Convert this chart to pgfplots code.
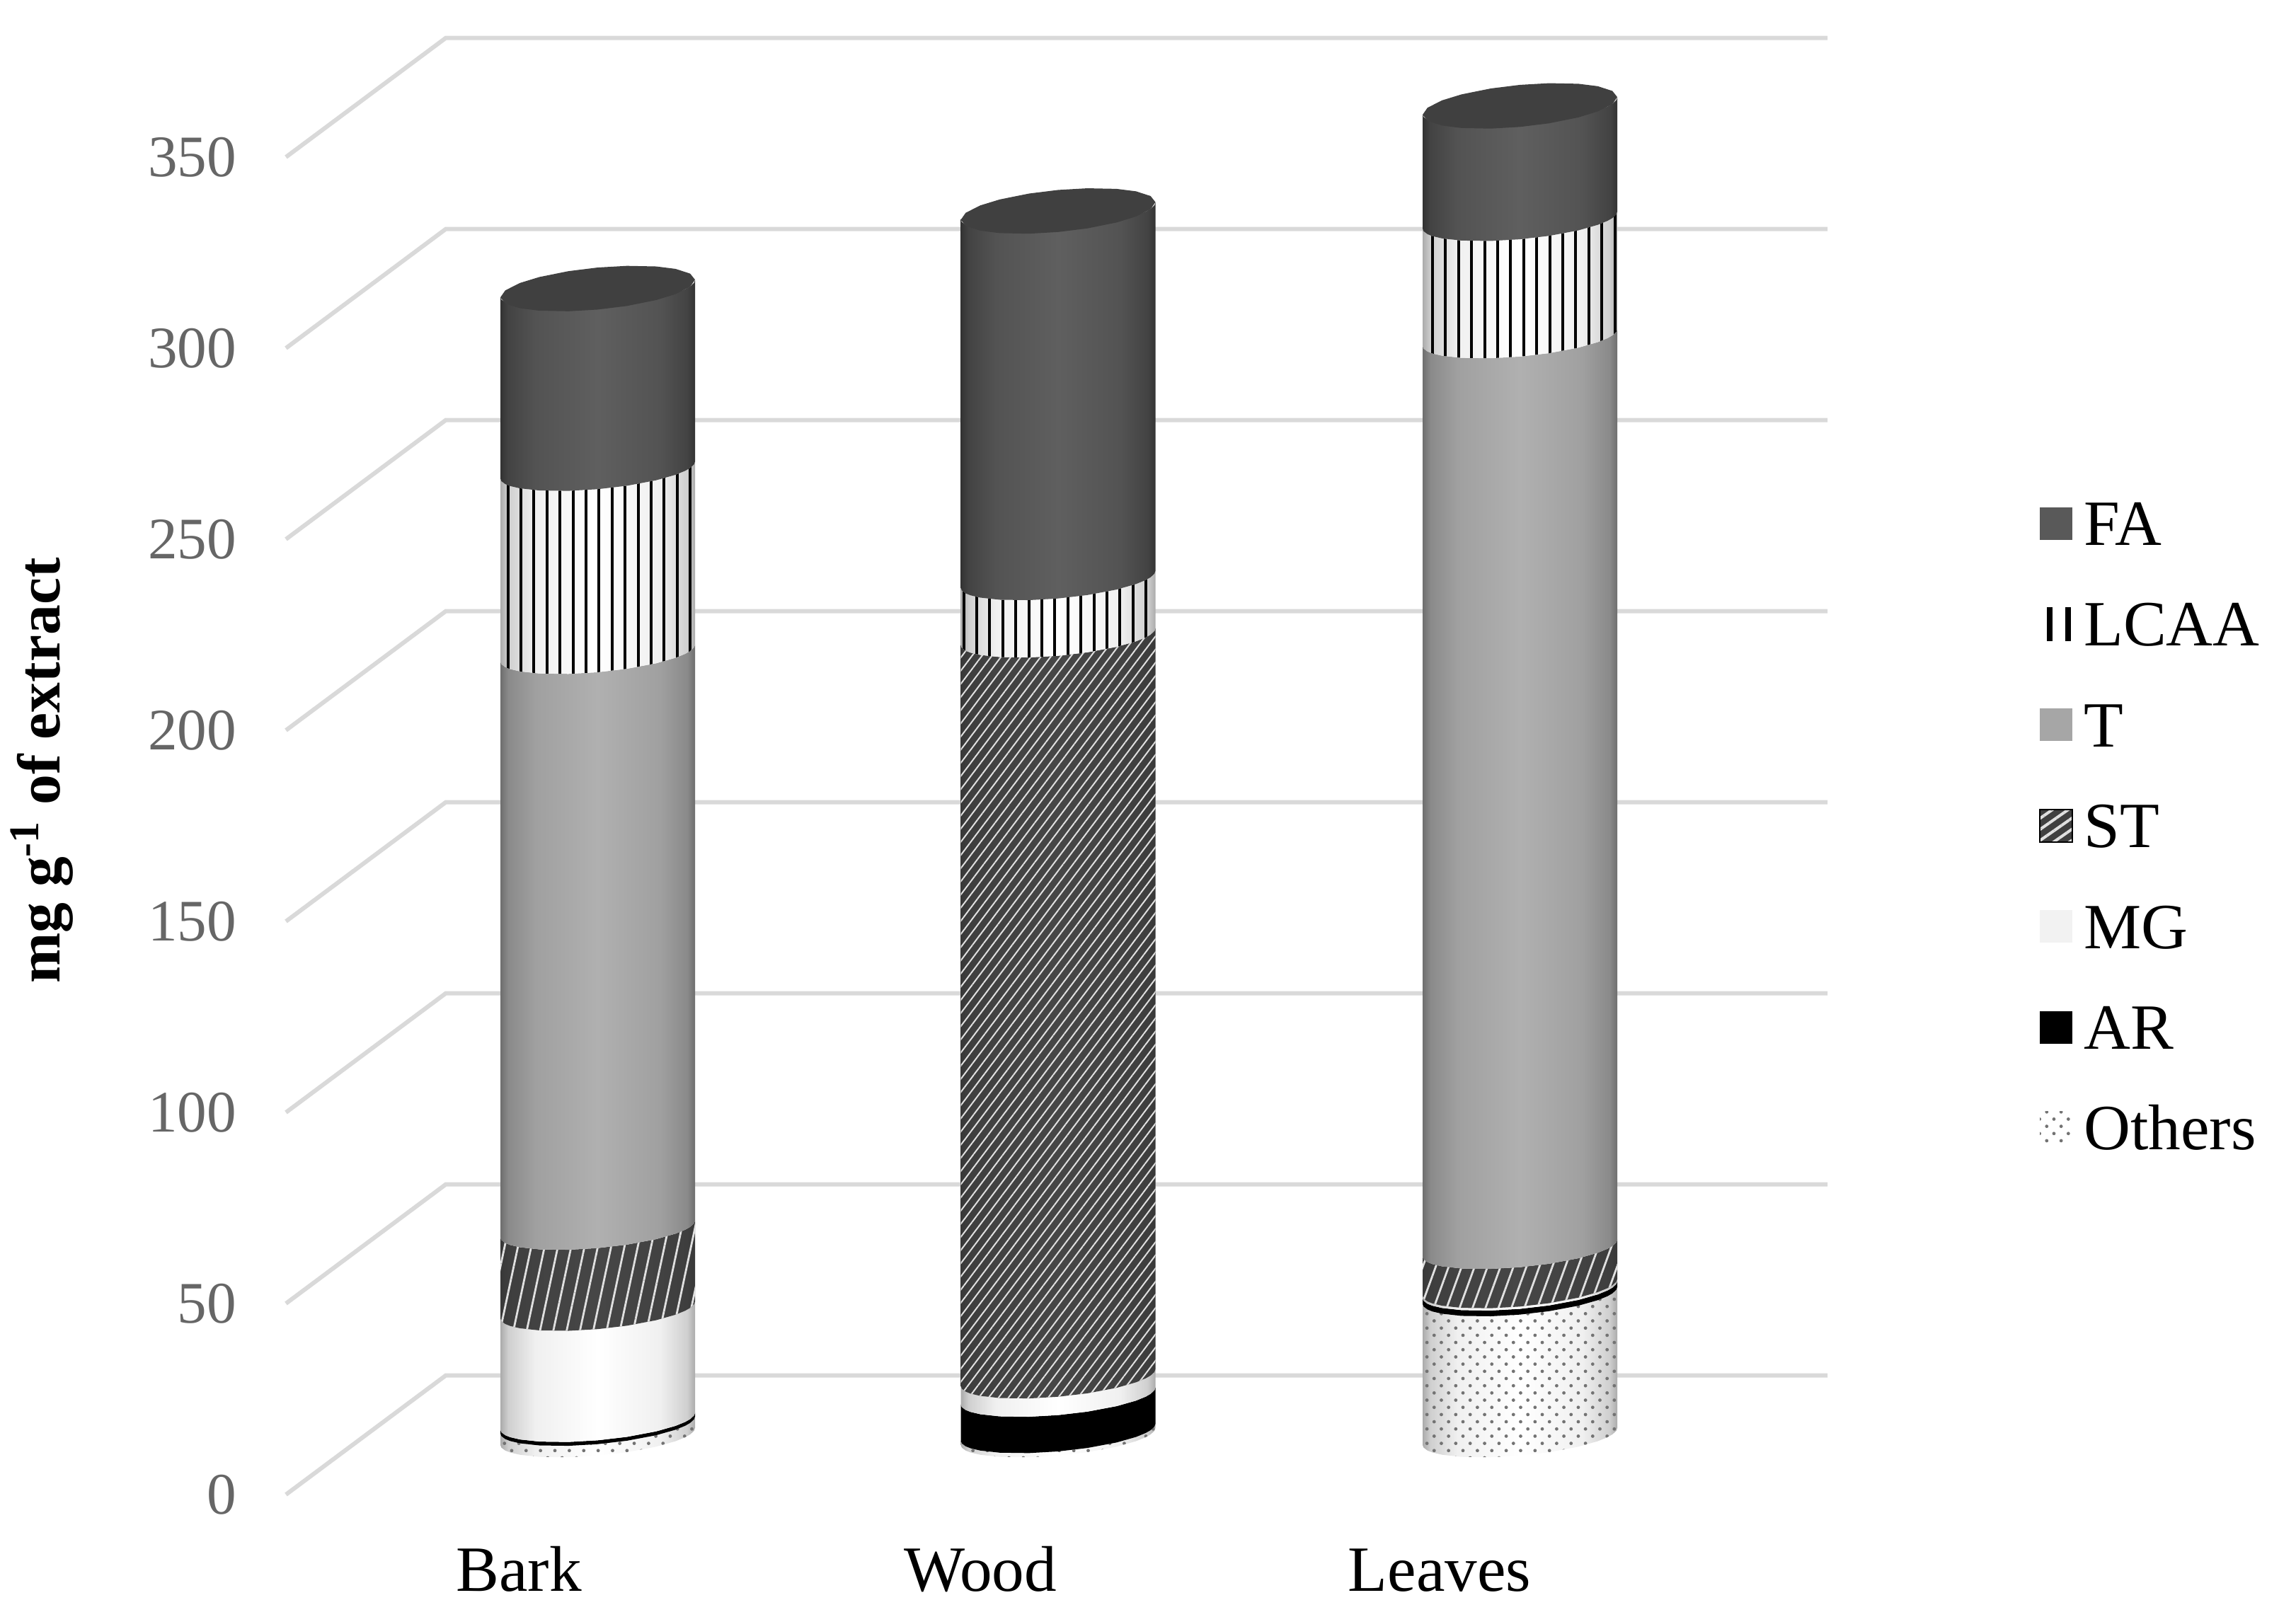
\documentclass[border=0pt]{standalone}
\usepackage{fontspec}
\setmainfont{Liberation Serif}
\usepackage{pgfplots}
\usepackage{pgfplotstable}
\pgfplotsset{compat=1.18}
\usetikzlibrary{patterns.meta}
\definecolor{gridc}{HTML}{D9D9D9}
\definecolor{tickc}{HTML}{666666}
\newcommand\mkshade[5]{%
  \pgfdeclarehorizontalshading{#1}{100bp}{color(0bp)=(#2); color(25bp)=(#2); color(27bp)=(#3); color(34bp)=(#4); color(50bp)=(#5); color(66bp)=(#4); color(73bp)=(#3); color(75bp)=(#2); color(100bp)=(#2)}}
\definecolor{a1}{HTML}{333333}\definecolor{a2}{HTML}{434343}\definecolor{a3}{HTML}{535353}\definecolor{a4}{HTML}{5F5F5F}
\definecolor{b1}{HTML}{6E6E6E}\definecolor{b2}{HTML}{8A8A8A}\definecolor{b3}{HTML}{A0A0A0}\definecolor{b4}{HTML}{B0B0B0}
\definecolor{c1}{HTML}{ABABAB}\definecolor{c2}{HTML}{CFCFCF}\definecolor{c3}{HTML}{F0F0F0}\definecolor{c4}{HTML}{FFFFFF}
\definecolor{d1}{HTML}{383838}\definecolor{d2}{HTML}{3E3E3E}\definecolor{d3}{HTML}{424242}\definecolor{d4}{HTML}{464646}
\mkshade{cylFA}{a1}{a2}{a3}{a4}
\mkshade{cylT}{b1}{b2}{b3}{b4}
\mkshade{cylW}{c1}{c2}{c3}{c4}
\mkshade{cylST}{d1}{d2}{d3}{d4}
% shape of one cylinder slice: lower rim left to right, upper rim right to left
\pgfplotstableread{
u s e
-1 0 0
-.99 .141 0
-.95 .312 0
-.9 .436 0
-.8 .6 0
-.6 .8 0
-.3 .954 0
0 1 0
.3 .954 0
.6 .8 0
.8 .6 0
.9 .436 0
.95 .312 0
.99 .141 0
1 0 0
1 0 1
.99 .141 1
.95 .312 1
.9 .436 1
.8 .6 1
.6 .8 1
.3 .954 1
0 1 1
-.3 .954 1
-.6 .8 1
-.8 .6 1
-.9 .436 1
-.95 .312 1
-.99 .141 1
-1 0 1
}\segshape
\pgfplotstableread{
u s
-1 0
-.95 .312
-.8 .6
-.6 .8
-.3 .954
0 1
.3 .954
.6 .8
.8 .6
.95 .312
1 0
.95 -.312
.8 -.6
.6 -.8
.3 -.954
0 -1
-.3 -.954
-.6 -.8
-.8 -.6
-.95 -.312
-1 0
}\capshape
% \seg{centre x}{low}{high}{style}; 15.2 lifts the bars' plane above the front plane
\newcommand\seg[4]{\addplot[draw=none,forget plot,#4] table[x expr={#1+137.5*\thisrow{u}},y expr={15.2+#2+(#3-#2)*\thisrow{e}+2.22*\thisrow{u}-5.0*\thisrow{s}}] {\segshape};}
\newcommand\capp[2]{\addplot[draw=none,forget plot,fill=capc] table[x expr={#1+137.5*\thisrow{u}},y expr={15.2+#2+2.31*\thisrow{u}-5.5*\thisrow{s}}] {\capshape};}
\definecolor{capc}{HTML}{404040}
\tikzset{
 sFA/.style={shade,shading=cylFA},
 sT/.style={shade,shading=cylT},
 sW/.style={shade,shading=cylW},
 sST/.style={shade,shading=cylST},
 sAR/.style={fill=black},
 pLC/.style={pattern={Lines[angle=90,distance=4.6pt,line width=1pt]},pattern color=black},
 pSTbark/.style={pattern={Lines[angle=78,distance=4.6pt,line width=.7pt]},pattern color=black!12},
 pSTwood/.style={pattern={Lines[angle=53,distance=2.8pt,line width=.5pt]},pattern color=black!12},
 pSTleaf/.style={pattern={Lines[angle=70,distance=4.3pt,line width=.7pt]},pattern color=black!12},
 pOT/.style={pattern={Dots[angle=45,distance=3.6pt,radius=.6pt]},pattern color=black!55},
}
\newcommand\swatch[1]{\path[draw=none,#1] (0pt,-5.55pt) rectangle (11.5pt,5.95pt);}
\begin{document}
\begin{tikzpicture}
\path[use as bounding box] (0,0) rectangle (811pt,571pt);
\begin{axis}[
  at={(101pt,43pt)},anchor=south west,
  scale only axis,width=544.5pt,height=515.7pt,
  xmin=404,xmax=2582,ymin=0,ymax=382,
  clip=false,
  axis line style={draw=none},
  major tick length=0pt,
  ytick={0,50,100,150,200,250,300,350},
  xtick={733,1385,2034},
  xticklabels={Bark,Wood,Leaves},
  /pgf/number format/assume math mode=true,
  yticklabel style={font=\fontsize{20.8}{24}\selectfont,color=tickc,anchor=east,inner sep=0pt,xshift=-17.3pt},
  xticklabel style={font=\fontsize{22.8}{25}\selectfont,color=black,anchor=base,inner sep=0pt,yshift=-34pt},
  ylabel={\textbf{mg g\textsuperscript{-1} of extract}},
  every axis y label/.style={at={(axis description cs:-0.1465,0.496)},rotate=90,anchor=base,font=\fontsize{21.4}{24}\selectfont},
  legend style={at={(axis cs:2880,259.6)},anchor=north west,draw=none,fill=none,inner sep=0pt,outer sep=0pt,
    font=\fontsize{22.8}{25}\selectfont,row sep=20.5pt,
    /tikz/every odd column/.style={column sep=3.6pt},
    nodes={inner sep=0pt,text height=15.1pt,text depth=0pt}},
  legend cell align=left,
  legend image code/.code={\swatch{#1}},
]
% depth gridlines
\addplot[gridc,line width=1.5pt,forget plot] coordinates {(404,0)(630,31.2)(2582,31.2)};
\addplot[gridc,line width=1.5pt,forget plot] coordinates {(404,50)(630,81.2)(2582,81.2)};
\addplot[gridc,line width=1.5pt,forget plot] coordinates {(404,100)(630,131.2)(2582,131.2)};
\addplot[gridc,line width=1.5pt,forget plot] coordinates {(404,150)(630,181.2)(2582,181.2)};
\addplot[gridc,line width=1.5pt,forget plot] coordinates {(404,200)(630,231.2)(2582,231.2)};
\addplot[gridc,line width=1.5pt,forget plot] coordinates {(404,250)(630,281.2)(2582,281.2)};
\addplot[gridc,line width=1.5pt,forget plot] coordinates {(404,300)(630,331.2)(2582,331.2)};
\addplot[gridc,line width=1.5pt,forget plot] coordinates {(404,350)(630,381.2)(2582,381.2)};
% Bark
\seg{844.5}{0}{3.0}{sW}\seg{844.5}{0}{3.0}{pOT}
\seg{844.5}{3.0}{4.0}{sAR}
\seg{844.5}{4.0}{33.1}{sW}
\seg{844.5}{33.1}{54.3}{sST}\seg{844.5}{33.1}{54.3}{pSTbark}
\seg{844.5}{54.3}{205.0}{sT}
\seg{844.5}{205.0}{252.9}{sW}\seg{844.5}{205.0}{252.9}{pLC}
\seg{844.5}{252.9}{300.4}{sFA}
\capp{844.5}{300.4}
% Wood
\seg{1495}{0}{1.1}{sW}\seg{1495}{0}{1.1}{pOT}
\seg{1495}{1.1}{10.6}{sAR}
\seg{1495}{10.6}{15.4}{sW}
\seg{1495}{15.4}{209.3}{sST}\seg{1495}{15.4}{209.3}{pSTwood}
\seg{1495}{209.3}{224.3}{sW}\seg{1495}{209.3}{224.3}{pLC}
\seg{1495}{224.3}{320.7}{sFA}
\capp{1495}{320.7}
% Leaves
\seg{2147.5}{0}{36.9}{sW}\seg{2147.5}{0}{36.9}{pOT}
\seg{2147.5}{36.9}{38.4}{sAR}
\seg{2147.5}{38.4}{39.0}{sW}
\seg{2147.5}{39.0}{49.3}{sST}\seg{2147.5}{39.0}{49.3}{pSTleaf}
\seg{2147.5}{49.3}{287.6}{sT}
\seg{2147.5}{287.6}{318.3}{sW}\seg{2147.5}{287.6}{318.3}{pLC}
\seg{2147.5}{318.3}{348.2}{sFA}
\capp{2147.5}{348.2}
% legend
\addlegendimage{fill={black!65}}\addlegendentry{FA}
\addlegendimage{legend image code/.code={\fill[black] (2.75pt,-5.55pt) rectangle (4.35pt,5.95pt);\fill[black] (9.25pt,-5.55pt) rectangle (10.85pt,5.95pt);}}\addlegendentry{LCAA}
\addlegendimage{fill={black!35}}\addlegendentry{T}
\addlegendimage{legend image code/.code={\fill[black!75] (0pt,-5.55pt) rectangle (11.5pt,5.95pt);\path[pattern={Lines[angle=35,distance=3.2pt,line width=1pt]},pattern color=black!12] (0pt,-5.55pt) rectangle (11.5pt,5.95pt);}}\addlegendentry{ST}
\addlegendimage{fill={black!5}}\addlegendentry{MG}
\addlegendimage{fill=black}\addlegendentry{AR}
\addlegendimage{pOT}\addlegendentry{Others}
\end{axis}
\end{tikzpicture}
\end{document}
